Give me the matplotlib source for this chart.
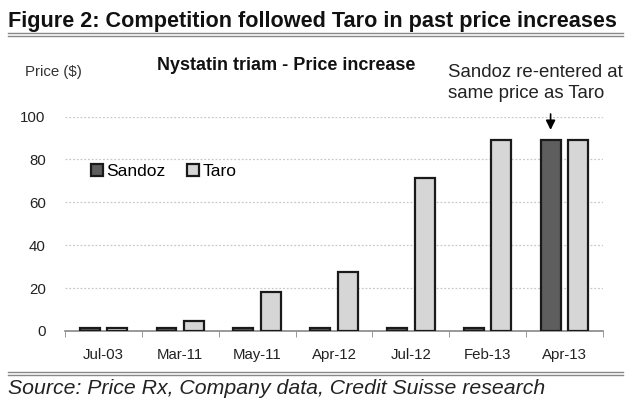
import matplotlib
matplotlib.use("Agg")
import matplotlib.pyplot as plt
import numpy as np
from matplotlib.lines import Line2D

plt.rcParams['font.family'] = ['Liberation Sans', 'DejaVu Sans']

categories = ["Jul-03", "Mar-11", "May-11", "Apr-12", "Jul-12", "Feb-13", "Apr-13"]
sandoz = [1.5, 1.5, 1.5, 1.5, 1.5, 1.5, 89]
taro = [1.5, 4.5, 18, 27.5, 71.5, 89, 89]
yticks = [0, 20, 40, 60, 80, 100]

fig = plt.figure(figsize=(6.26, 4.0), dpi=100)
ax = fig.add_axes([0.104, 0.1725, 0.859, 0.536])

x = np.arange(len(categories))
w = 0.26
off = 0.18
ax.bar(x - off, sandoz, w, color="#5e5e5e", edgecolor="#1a1a1a", linewidth=1.6, label="Sandoz", zorder=3)
ax.bar(x + off, taro, w, color="#d6d6d6", edgecolor="#1a1a1a", linewidth=1.6, label="Taro", zorder=3)

ax.set_xlim(-0.5, len(categories) - 0.5)
ax.set_ylim(0, 100)
ax.set_yticks(yticks)
ax.set_yticklabels([str(v) for v in yticks], fontsize=10.8, color="#222222")
ax.tick_params(axis='y', length=0, pad=14)
for v in yticks[1:]:
    ax.axhline(v, color="#c8c8c8", linestyle=(0, (1.5, 1.5)), linewidth=0.9, zorder=1)

ax.set_xticks(x)
ax.set_xticklabels(categories, fontsize=10.8, color="#222222")
ax.tick_params(axis='x', which='major', length=0, pad=12)
ax.set_xticks(np.arange(-0.5, len(categories)), minor=True)
ax.tick_params(axis='x', which='minor', length=4, color="#888888", direction='out')

for s in ["left", "right", "top"]:
    ax.spines[s].set_visible(False)
ax.spines["bottom"].set_color("#888888")
ax.spines["bottom"].set_linewidth(1.2)

leg = ax.legend(loc="center left", bbox_to_anchor=(0.048, 0.743), ncol=2, frameon=False,
                fontsize=12.5, handlelength=0.7, handleheight=0.7, handletextpad=0.2,
                columnspacing=1.2, borderaxespad=0, borderpad=0)

# Titles and texts
fig.text(0.013, 0.933, "Figure 2: Competition followed Taro in past price increases",
         fontsize=15.6, fontweight="bold", color="#111111", ha="left", va="baseline")
fig.add_artist(Line2D([0.013, 0.995], [0.917, 0.917], color="#888888", linewidth=1.0))
fig.add_artist(Line2D([0.013, 0.995], [0.911, 0.911], color="#888888", linewidth=1.0))

fig.text(0.457, 0.825, "Nystatin triam - Price increase", fontsize=13, fontweight="bold",
         color="#111111", ha="center", va="baseline")
fig.text(0.04, 0.81, "Price ($)", fontsize=10.8, color="#333333", ha="left", va="baseline")
fig.text(0.716, 0.808, "Sandoz re-entered at", fontsize=13.4,
         color="#222222", ha="left", va="baseline")
fig.text(0.716, 0.756, "same price as Taro", fontsize=13.4,
         color="#222222", ha="left", va="baseline")

ax.annotate("", xy=(6 - off, 92.5), xytext=(6 - off, 102.5), xycoords="data",
            arrowprops=dict(arrowstyle="-|>", color="black", lw=1.2, mutation_scale=14),
            annotation_clip=False)

fig.add_artist(Line2D([0.013, 0.995], [0.069, 0.069], color="#888888", linewidth=1.0))
fig.add_artist(Line2D([0.013, 0.995], [0.063, 0.063], color="#888888", linewidth=1.0))
fig.text(0.013, 0.014, "Source: Price Rx, Company data, Credit Suisse research", fontsize=15.3,
         fontstyle="italic", color="#222222", ha="left", va="baseline")

fig.savefig("out.png", dpi=100)
